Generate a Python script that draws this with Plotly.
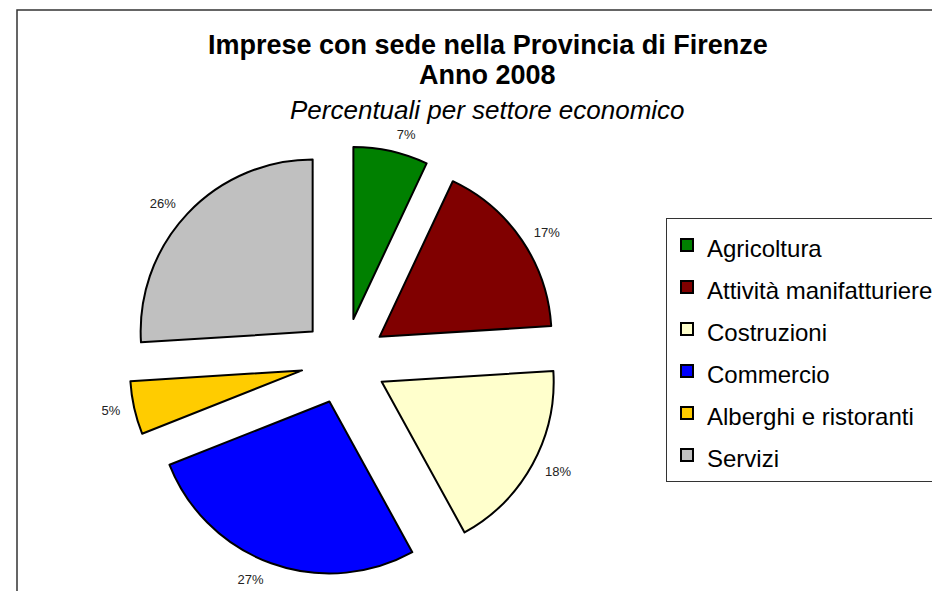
import plotly.graph_objects as go

# Data
settori = ["Agricoltura", "Attività manifatturiere", "Costruzioni",
           "Commercio", "Alberghi e ristoranti", "Servizi"]
percentuali = [7, 17, 18, 27, 5, 26]
colori = ["#008000", "#800000", "#FFFFCC", "#0000FF", "#FFCC00", "#C0C0C0"]

titolo1 = "Imprese con sede nella Provincia di Firenze"
titolo2 = "Anno 2008"
sottotitolo = "Percentuali per settore economico"

W, H = 940, 591
OFF = 8  # page body margin offset
FONT = "Liberation Sans, Arial, sans-serif"

def px(x):
    return (x - OFF) / W

def py(y):
    return 1 - (y - OFF) / H

CX, CY = 344, 361      # pie centre (reference pixels)
R, PULL = 172, 0.25    # radius and pull fraction
half = R * (1 + PULL)
R_LBL = 180            # radius of the label-only layer
half_l = R_LBL * (1 + PULL)

legend_labels = ['<span style="font-size:24px">%s</span>' % s for s in settori]

fig = go.Figure()
fig.add_trace(go.Pie(
    labels=legend_labels,
    values=percentuali,
    sort=False,
    direction="clockwise",
    rotation=0,
    pull=[PULL] * len(settori),
    marker=dict(colors=colori, line=dict(color="#000000", width=2)),
    textinfo="none",
    domain=dict(x=[px(CX - half), px(CX + half)], y=[py(CY + half), py(CY - half)]),
    hovertemplate="%{customdata}: %{percent:.0%}<extra></extra>",
    customdata=settori,
))
# label layer (same data, transparent slices) to place percentages a bit farther out
fig.add_trace(go.Pie(
    labels=settori,
    values=percentuali,
    sort=False,
    direction="clockwise",
    rotation=0,
    pull=[PULL] * len(settori),
    marker=dict(colors=["rgba(0,0,0,0)"] * len(settori), line=dict(width=0)),
    texttemplate="%{percent:.0%}",
    textposition="outside",
    outsidetextfont=dict(family=FONT, size=13, color="#222222"),
    domain=dict(x=[px(CX - half_l), px(CX + half_l)], y=[py(CY + half_l), py(CY - half_l)]),
    showlegend=False,
    hoverinfo="skip",
))

fig.add_annotation(text="<b>" + titolo1 + "</b>", x=px(488), y=py(45),
                   xref="paper", yref="paper", showarrow=False,
                   xanchor="center", yanchor="middle",
                   font=dict(family=FONT, size=27, color="#000000"))
fig.add_annotation(text="<b>" + titolo2 + "</b>", x=px(488), y=py(75),
                   xref="paper", yref="paper", showarrow=False,
                   xanchor="center", yanchor="middle",
                   font=dict(family=FONT, size=27, color="#000000"))
fig.add_annotation(text="<i>" + sottotitolo + "</i>", x=px(488), y=py(110),
                   xref="paper", yref="paper", showarrow=False,
                   xanchor="center", yanchor="middle",
                   font=dict(family=FONT, size=26, color="#000000"))

# chart area border
fig.add_shape(type="rect", xref="paper", yref="paper",
              x0=px(17), x1=1.05, y0=-0.05, y1=py(10),
              line=dict(color="#333333", width=1.5), fillcolor="rgba(0,0,0,0)",
              layer="below")

fig.update_layout(
    width=W, height=H,
    margin=dict(l=0, r=0, t=0, b=0, autoexpand=False),
    paper_bgcolor="#FFFFFF",
    plot_bgcolor="#FFFFFF",
    showlegend=True,
    legend=dict(
        x=px(666), y=py(218), xanchor="left", yanchor="top",
        bordercolor="#333333", borderwidth=1, bgcolor="#FFFFFF",
        font=dict(family=FONT, size=30, color="#000000"),
        itemwidth=30,
        traceorder="normal",
    ),
    font=dict(family=FONT),
)

fig.write_html("out.html")
